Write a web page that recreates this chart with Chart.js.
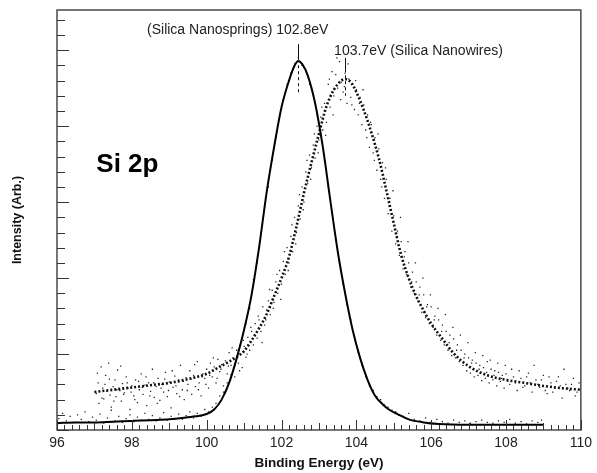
<!DOCTYPE html>
<html><head><meta charset="utf-8">
<script src="https://cdn.jsdelivr.net/npm/chart.js@4/dist/chart.umd.min.js"></script>
<style>html,body{margin:0;padding:0;background:#fff}</style>
</head><body>
<canvas id="c" width="597" height="473"></canvas>
<script>
// ---- Data ----
const xTickLabels = [96, 98, 100, 102, 104, 106, 108, 110];

// Fit curve: Silica Nanosprings (solid)
const springFitX = [96.0,96.5,97.0,97.5,98.0,98.5,99.0,99.4,99.7,100.0,100.2,100.4,100.6,100.8,101.0,101.2,101.4,101.6,101.8,102.0,102.2,102.35,102.45,102.55,102.7,102.9,103.1,103.3,103.5,103.7,103.9,104.1,104.3,104.5,104.7,104.9,105.1,105.4,105.8,106.2,107.0,108.0,109.0];
const springFitY = [0.09,0.10,0.10,0.11,0.12,0.13,0.14,0.16,0.18,0.21,0.27,0.40,0.62,0.94,1.32,1.78,2.40,3.12,3.72,4.25,4.60,4.80,4.86,4.82,4.67,4.30,3.74,3.04,2.36,1.80,1.32,0.95,0.66,0.45,0.34,0.26,0.21,0.14,0.10,0.08,0.07,0.07,0.07];

// Fit curve: Silica Nanowires (dotted)
const wireFitX = [97.0,97.5,98.0,98.5,99.0,99.5,100.0,100.3,100.6,100.8,101.0,101.2,101.4,101.6,101.8,102.0,102.2,102.4,102.6,102.8,103.0,103.2,103.4,103.6,103.7,103.85,104.0,104.2,104.4,104.6,104.8,105.0,105.2,105.4,105.6,105.8,106.0,106.3,106.6,107.0,107.5,108.0,108.5,109.0,109.5,110.0];
const wireFitY = [0.50,0.53,0.56,0.59,0.62,0.67,0.74,0.82,0.90,0.96,1.04,1.18,1.34,1.52,1.76,2.00,2.28,2.68,3.12,3.52,3.90,4.26,4.48,4.60,4.62,4.58,4.45,4.21,3.92,3.58,3.16,2.72,2.30,2.00,1.76,1.57,1.40,1.20,1.01,0.84,0.72,0.66,0.62,0.58,0.55,0.53];

// Raw data points: Silica Nanowires (first scan)
const wireRawX = [97.05,97.1,97.12,97.18,97.22,97.25,97.3,97.33,97.38,97.42,97.45,97.5,97.55,97.58,97.62,97.68,97.72,97.75,97.8,97.85,97.9,97.95,98.0,98.05,98.1,98.15,98.2,98.25,98.3,98.35,98.4,98.45,98.5,98.55,98.6,98.65,98.7,98.75,98.8,98.85,98.9,98.95,99.0,99.05,99.1,99.15,99.2,99.25,99.3,99.35,99.4,99.45,99.5,99.55,99.6,99.65,99.7,99.75,99.8,99.85,99.9,99.95,
100.0,100.05,100.1,100.15,100.2,100.25,100.3,100.35,100.4,100.45,100.5,100.55,100.6,100.65,100.7,100.75,100.8,100.85,100.9,100.95,101.0,101.05,101.1,101.15,101.2,101.25,101.3,101.35,101.4,101.45,101.5,101.55,101.6,101.65,101.7,101.75,101.8,101.85,101.9,101.95,102.0,102.05,102.1,102.15,102.2,102.25,102.3,102.35,102.4,102.45,102.5,102.55,102.6,102.65,102.7,102.75,102.8,102.85,102.9,102.95,103.0,103.05,103.1,103.15,103.2,103.25,103.3,103.35,103.4,103.45,103.5,103.55,103.6,103.65,103.7,103.75,103.8,103.85,103.9,103.95,104.0,104.05,104.1,104.15,104.2,104.25,104.3,104.35,104.4,104.45,104.5,104.55,104.6,104.65,104.7,104.75,104.8,104.85,104.9,104.95,105.0,105.05,105.1,105.15,105.2,105.25,105.3,105.35,105.4,105.45,105.5,105.55,105.6,105.65,105.7,105.75,105.8,105.85,105.9,105.95,106.0,106.05,106.1,106.15,106.2,106.25,106.3,106.35,106.4,106.45,106.5,106.55,106.6,106.65,106.7,106.75,106.8,106.85,106.9,106.95,107.0,107.05,107.1,107.15,107.2,107.25,107.3,107.35,107.4,107.45,107.5,107.55,107.6,107.65,107.7,107.75,107.8,107.85,107.9,107.95,108.0,108.1,108.2,108.3,108.4,108.5,108.6,108.7,108.8,108.9,109.0,109.1,109.2,109.3,109.4,109.5,109.6,109.7,109.8,109.9,110.0];
const wireRawY = [0.48,0.62,0.35,0.83,0.55,0.41,0.72,0.51,0.88,0.46,0.30,0.57,0.66,0.44,0.79,0.52,0.38,0.61,0.49,0.70,0.55,0.27,0.58,0.45,0.66,0.36,0.53,0.74,0.47,0.59,0.32,0.62,0.51,0.80,0.43,0.57,0.68,0.39,0.60,0.50,0.76,0.44,0.63,0.29,0.56,0.71,0.48,0.66,0.85,0.53,0.40,0.69,0.60,0.78,0.47,0.72,0.57,0.90,0.62,0.45,0.74,0.68,
0.80,0.55,0.88,0.70,0.83,0.62,0.93,0.77,0.86,0.58,0.91,0.74,1.02,0.85,0.95,0.70,1.05,0.88,1.12,0.82,1.10,0.96,1.22,1.05,1.30,1.12,1.40,1.21,1.45,1.30,1.62,1.38,1.58,1.70,1.52,1.84,1.68,1.95,1.80,2.10,1.92,2.22,2.05,2.40,2.20,2.55,2.35,2.80,2.60,2.95,2.78,3.20,3.00,3.40,3.25,3.62,3.45,3.75,3.58,4.00,3.82,4.12,3.95,4.30,4.05,4.55,4.25,4.72,4.40,4.68,4.50,4.85,4.58,4.45,4.70,4.30,4.62,4.38,4.55,4.22,4.48,4.15,4.38,4.02,4.28,3.95,4.15,3.72,4.02,3.65,3.85,3.42,3.70,3.30,3.52,3.05,3.30,2.85,3.05,2.62,2.82,2.45,2.62,2.30,2.48,2.12,2.35,2.05,2.20,1.88,2.08,1.80,1.95,1.70,1.88,1.55,1.78,1.48,1.65,1.40,1.62,1.35,1.50,1.25,1.45,1.18,1.38,1.12,1.30,1.05,1.25,0.98,1.20,0.95,1.12,0.90,1.05,0.85,1.00,0.78,0.95,0.75,0.92,0.70,0.88,0.72,0.85,0.65,0.82,0.68,0.90,0.62,0.80,0.66,0.78,0.58,0.76,0.64,0.72,0.55,0.74,0.60,0.70,0.52,0.68,0.58,0.75,0.50,0.66,0.56,0.72,0.48,0.62,0.55,0.70,0.42,0.60,0.52,0.68,0.50,0.58];

// Raw data points: Silica Nanowires (second scan, wider scatter)
const wireRaw2X = [97.08,97.2,97.28,97.4,97.52,97.6,97.7,97.78,97.88,97.98,98.08,98.18,98.28,98.38,98.48,98.58,98.68,98.78,98.88,98.98,99.08,99.18,99.28,99.38,99.48,99.58,99.68,99.78,99.88,99.98,100.08,100.18,100.28,100.38,100.48,100.58,100.68,100.78,100.88,100.98,101.08,101.18,101.28,101.38,101.48,101.58,101.68,101.78,101.88,101.98,102.08,102.18,102.28,102.38,102.48,102.58,102.68,102.78,102.88,102.98,103.08,103.18,103.28,103.38,103.48,103.58,103.68,103.78,103.88,103.98,104.08,104.18,104.28,104.38,104.48,104.58,104.68,104.78,104.88,104.98,105.08,105.18,105.28,105.38,105.48,105.58,105.68,105.78,105.88,105.98,106.08,106.18,106.28,106.38,106.48,106.58,106.68,106.78,106.88,106.98,107.08,107.18,107.28,107.38,107.48,107.58,107.68,107.78,107.88,107.98,108.05,108.15,108.25,108.35,108.45,108.55,108.65,108.75,108.85,108.95,109.05,109.15,109.25,109.35,109.45,109.55,109.65,109.75,109.85,109.95];
const wireRaw2Y = [0.75,0.42,0.60,0.67,0.38,0.53,0.84,0.47,0.62,0.50,0.40,0.64,0.56,0.70,0.45,0.62,0.35,0.55,0.67,0.52,0.78,0.58,0.44,0.64,0.52,0.67,0.86,0.53,0.70,0.60,0.72,0.95,0.68,0.80,0.50,0.84,1.08,0.90,0.78,1.18,1.00,1.35,1.25,1.50,1.15,1.45,1.85,1.60,2.05,1.72,2.35,2.10,2.70,2.45,3.10,2.90,3.55,3.30,3.90,3.65,4.25,3.88,4.62,4.15,4.90,4.35,4.52,4.82,4.28,4.60,4.30,4.48,3.85,4.05,3.55,3.90,3.20,3.45,2.95,3.15,2.55,2.80,2.28,2.48,1.95,2.20,1.78,2.00,1.62,1.78,1.45,1.60,1.30,1.52,1.15,1.35,1.05,1.25,0.95,1.15,0.88,1.02,0.80,0.98,0.76,0.92,0.72,0.88,0.68,0.85,0.64,0.80,0.62,0.78,0.56,0.70,0.62,0.85,0.60,0.66,0.52,0.70,0.50,0.64,0.58,0.80,0.55,0.60,0.45,0.62];

// Raw data points: Silica Nanosprings
const springRawX = [96.05,96.15,96.25,96.35,96.45,96.55,96.65,96.75,96.85,96.95,97.05,97.15,97.25,97.35,97.45,97.55,97.65,97.75,97.85,97.95,98.05,98.15,98.25,98.35,98.45,98.55,98.65,98.75,98.85,98.95,99.05,99.15,99.25,99.35,99.45,99.55,99.65,99.75,99.85,99.95,100.05,100.15,100.25,100.35,100.45,100.55,100.65,100.75,100.85,100.95,101.05,101.15,101.25,101.35,101.45,101.55,101.65,101.75,101.85,101.95,102.05,102.15,102.25,102.35,102.45,102.55,102.65,102.75,102.85,102.95,103.05,103.15,103.25,103.35,103.45,103.55,103.65,103.75,103.85,103.95,104.05,104.15,104.25,104.35,104.45,104.55,104.65,104.75,104.85,104.95,105.05,105.15,105.25,105.4,105.55,105.7,105.85,106.0,106.15,106.3,106.45,106.6,106.75,106.9,107.05,107.2,107.35,107.5,107.65,107.8,107.95,108.1,108.25,108.4,108.55,108.7,108.85,108.95];
const springRawY = [0.15,0.22,0.12,0.18,0.10,0.20,0.14,0.24,0.11,0.17,0.13,0.21,0.09,0.16,0.26,0.12,0.18,0.10,0.15,0.20,0.11,0.17,0.13,0.22,0.14,0.19,0.12,0.16,0.23,0.13,0.18,0.15,0.21,0.14,0.19,0.24,0.16,0.22,0.18,0.27,0.24,0.30,0.35,0.45,0.50,0.62,0.73,0.85,1.05,1.20,1.40,1.60,1.98,2.20,2.60,2.95,3.20,3.55,3.85,4.15,4.35,4.55,4.70,4.82,4.90,4.80,4.72,4.55,4.40,4.15,3.90,3.55,3.20,2.85,2.50,2.20,1.92,1.65,1.45,1.22,1.02,0.85,0.70,0.58,0.52,0.44,0.40,0.33,0.30,0.26,0.24,0.20,0.18,0.22,0.14,0.12,0.16,0.10,0.14,0.11,0.09,0.13,0.10,0.12,0.09,0.11,0.13,0.10,0.09,0.12,0.10,0.14,0.09,0.11,0.08,0.12,0.10,0.13];

// Peak annotations
const peakLabels = ["(Silica Nanosprings) 102.8eV", "103.7eV (Silica Nanowires)"];
const peakX = [102.45, 103.7];
const peakMarkTop = [5.08, 4.90];
const peakMarkBottom = [4.42, 4.40];
const panelLabel = "Si 2p";

const pts = (xs, ys) => xs.map((v, i) => ({x: v, y: ys[i]}));
const FONT = '"Liberation Sans", Arial, sans-serif';

const deco = {
  id: 'deco',
  afterDatasetsDraw(chart) {
    const {ctx, chartArea: a, scales: {x, y}} = chart;
    ctx.save();
    ctx.strokeStyle = '#4a4a4a';
    ctx.lineWidth = 1.5;
    ctx.strokeRect(a.left, a.top, a.right - a.left, a.bottom - a.top);
    ctx.lineWidth = 1;
    ctx.strokeStyle = '#333';
    ctx.beginPath();
    for (let i = 0; i <= 70; i++) {
      const px = Math.round(x.getPixelForValue(96 + i * 0.2)) + 0.5;
      const len = (i % 10 === 0) ? 10 : (i % 5 === 0 ? 7 : 5);
      ctx.moveTo(px, a.bottom); ctx.lineTo(px, a.bottom - len);
    }
    for (let i = 0; i * 0.2 <= y.max + 1e-9; i++) {
      const py = Math.round(y.getPixelForValue(i * 0.2)) + 0.5;
      const len = (i % 5 === 0) ? 12 : 8;
      ctx.moveTo(a.left, py); ctx.lineTo(a.left + len, py);
    }
    ctx.stroke();

    // peak markers
    ctx.strokeStyle = '#111';
    for (let k = 0; k < peakX.length; k++) {
      const px = Math.round(x.getPixelForValue(peakX[k])) + 0.5;
      const yt = y.getPixelForValue(peakMarkTop[k]);
      const yb = y.getPixelForValue(peakMarkBottom[k]);
      const mid = yt + (yb - yt) * 0.3;
      ctx.setLineDash([]);
      ctx.beginPath(); ctx.moveTo(px, yt); ctx.lineTo(px, mid); ctx.stroke();
      ctx.setLineDash([3, 3]);
      ctx.beginPath(); ctx.moveTo(px, mid); ctx.lineTo(px, yb); ctx.stroke();
      ctx.setLineDash([]);
    }

    ctx.fillStyle = '#222';
    ctx.font = '14px ' + FONT;
    ctx.textBaseline = 'middle';
    ctx.textAlign = 'right';
    ctx.fillText(peakLabels[0], x.getPixelForValue(peakX[0]) + 30, y.getPixelForValue(5.27));
    ctx.textAlign = 'left';
    ctx.fillText(peakLabels[1], x.getPixelForValue(peakX[1]) - 11, y.getPixelForValue(4.99));

    ctx.fillStyle = '#000';
    ctx.font = 'bold 26px ' + FONT;
    ctx.textBaseline = 'alphabetic';
    ctx.fillText(panelLabel, x.getPixelForValue(97.05), y.getPixelForValue(3.4));
    ctx.restore();
  }
};

const dot = {showLine: false, pointRadius: 0.9, pointStyle: 'rect', backgroundColor: '#222', borderColor: '#222', borderWidth: 0};

new Chart(document.getElementById('c'), {
  type: 'scatter',
  data: {
    datasets: [
      {label: 'Nanosprings fit', data: pts(springFitX, springFitY), showLine: true, borderColor: '#000', borderWidth: 2, pointRadius: 0, cubicInterpolationMode: 'monotone'},
      {label: 'Nanowires fit', data: pts(wireFitX, wireFitY), showLine: true, borderColor: '#111', borderWidth: 2.6, borderDash: [2, 2], pointRadius: 0, cubicInterpolationMode: 'monotone'},
      Object.assign({label: 'Nanowires data 1', data: pts(wireRawX, wireRawY)}, dot),
      Object.assign({label: 'Nanowires data 2', data: pts(wireRaw2X, wireRaw2Y)}, dot),
      Object.assign({label: 'Nanosprings data', data: pts(springRawX, springRawY)}, dot)
    ]
  },
  options: {
    responsive: false,
    animation: false,
    events: [],
    layout: {padding: {top: 10, right: 10, left: 0, bottom: 0}},
    plugins: {legend: {display: false}, tooltip: {enabled: false}},
    scales: {
      x: {
        type: 'linear', min: 96, max: 110,
        afterFit(s) { s.height = 43; },
        afterBuildTicks(s) { s.ticks = xTickLabels.map(v => ({value: v})); },
        grid: {display: false, drawTicks: false},
        border: {display: false},
        ticks: {color: '#222', font: {size: 14, family: FONT}, padding: 5, maxRotation: 0},
        title: {display: true, text: 'Binding Energy (eV)', color: '#111', font: {size: 13.5, weight: 'bold', family: FONT}, padding: {top: 0, bottom: 2}}
      },
      y: {
        type: 'linear', min: 0, max: 5.53,
        afterFit(s) { s.width = 57; },
        grid: {display: false, drawTicks: false},
        border: {display: false},
        ticks: {display: false},
        title: {display: true, text: 'Intensity (Arb.)', color: '#111', font: {size: 12.5, weight: 'bold', family: FONT}, padding: {top: 10, bottom: 0}}
      }
    }
  },
  plugins: [deco]
});
</script>
</body></html>
